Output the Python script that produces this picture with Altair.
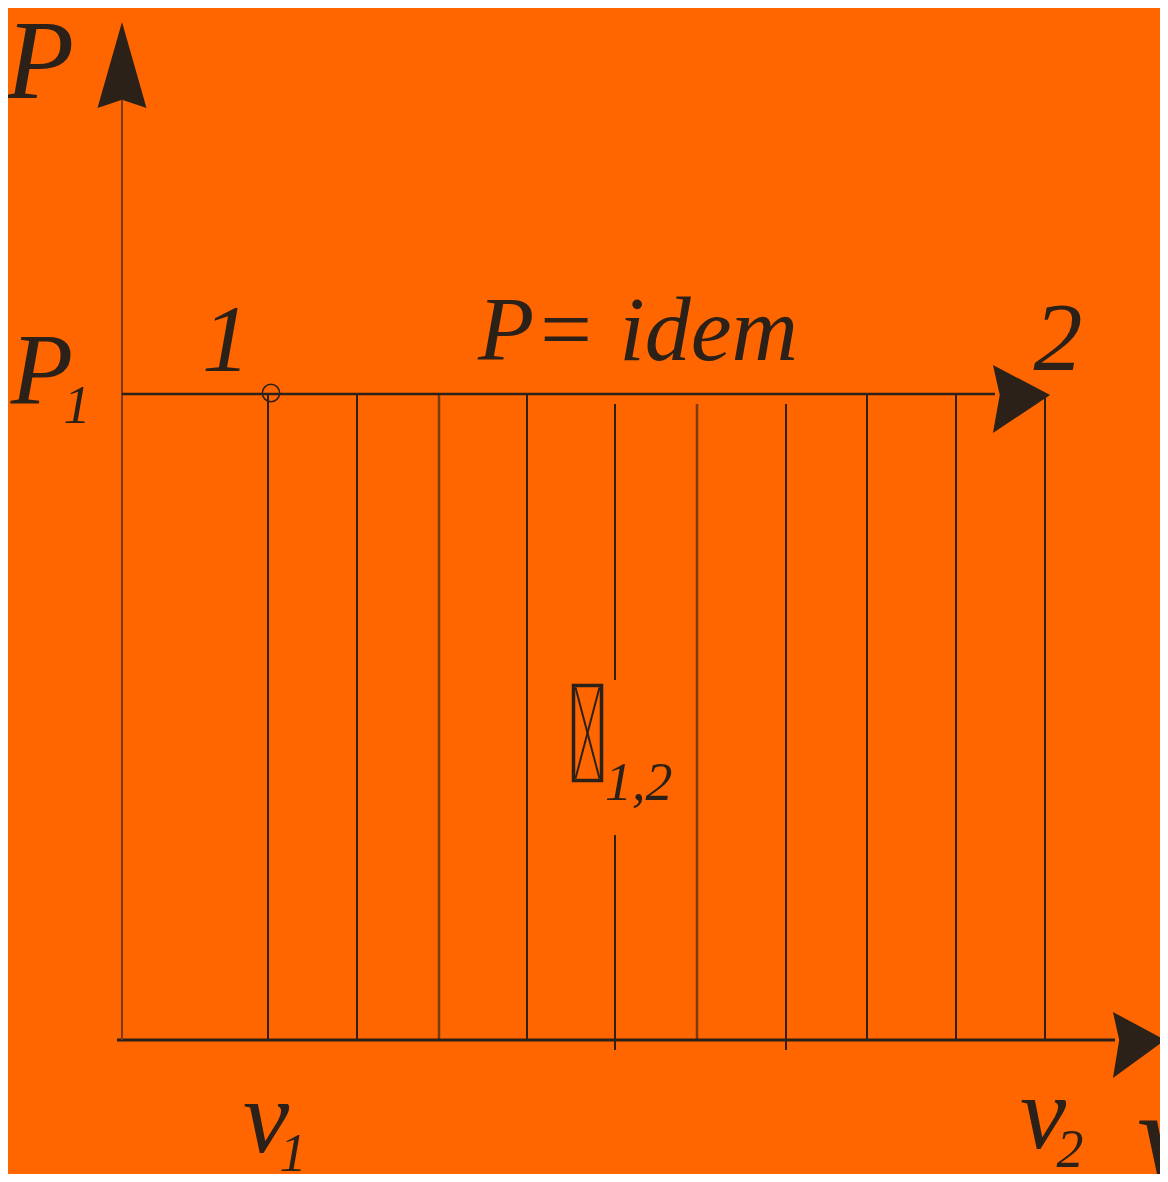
import altair as alt
import pandas as pd

BG = "#FF6600"
DARK = "#2b2118"
BROWN = "#7a3a12"

# coordinate system: specific volume v (horizontal), pressure P (vertical)
V_DOMAIN = [-1.14, 10.38]
P_DOMAIN = [-1.34, 10.32]

P1 = 6.46
V1 = 1.46
V2 = 9.23

# vertical hatching lines under the isobar (work area)
grid_v = [1.46, 2.35, 3.17, 4.05, 4.93, 4.93, 5.75, 6.64, 7.45, 8.34, 9.23]
grid_top = [6.46, 6.46, 6.46, 6.46, 6.36, 2.05, 6.36, 6.36, 6.46, 6.46, 6.46]
grid_bot = [0.0, 0.0, 0.0, 0.0, 3.60, -0.10, 0.0, -0.10, 0.0, 0.0, 0.0]
grid_col = [DARK, DARK, BROWN, DARK, DARK, DARK, BROWN, DARK, DARK, DARK, DARK]
grid_w = [2, 2, 2.5, 2, 2, 2, 2.5, 2, 2, 2, 2]

# axes and isobar lines
line_v1 = [-0.05, 0.0, 0.0]
line_v2 = [9.93, 0.0, 8.73]
line_p1 = [0.0, 0.0, P1]
line_p2 = [0.0, 9.40, P1]
line_col = [DARK, BROWN, DARK]
line_w = [3, 2, 2.5]

# arrow heads
arrow_v = [0.0, 10.17, 8.995]
arrow_p = [9.75, -0.05, 6.41]
arrow_size = [7396, 4356, 4624]
arrow_shape = [
    "M0,-1L0.57,1L0,0.81L-0.57,1Z",
    "M0.79,-0.15L-0.79,-1L-0.6,-0.15L-0.79,1Z",
    "M0.84,-0.12L-0.84,-1L-0.64,-0.12L-0.84,1Z",
]

# work symbol box (L_1,2)
box_v = [4.515, 4.795]
box_p = [3.545, 2.595]

# text labels
txt = ["P", "P", "1", "1", "P= idem", "2", "v", "1", "v", "2", "v", "1,2"]
txt_v = [-0.82, -0.80, -0.45, 1.04, 5.16, 9.36, 1.44, 1.71, 9.21, 9.48, 10.15, 4.83]
txt_p = [9.42, 6.36, 6.17, 6.69, 6.80, 6.70, -1.12, -1.31, -1.08, -1.27, -1.45, 2.40]
txt_fs = [112, 102, 54, 96, 92, 98, 104, 54, 104, 54, 140, 54]
txt_align = ["center", "center", "center", "center", "center", "center",
             "center", "center", "center", "center", "left", "left"]

xs = alt.Scale(domain=V_DOMAIN, nice=False, zero=False)
ys = alt.Scale(domain=P_DOMAIN, nice=False, zero=False)

grid_df = pd.DataFrame({"v": grid_v, "top": grid_top, "bot": grid_bot,
                        "c": grid_col, "w": grid_w})
grid = alt.Chart(grid_df).mark_rule().encode(
    x=alt.X("v:Q", scale=xs, axis=None),
    y=alt.Y("top:Q", scale=ys, axis=None),
    y2="bot:Q",
    color=alt.Color("c:N", scale=None),
    strokeWidth=alt.StrokeWidth("w:Q", scale=None),
)

line_df = pd.DataFrame({"v1": line_v1, "v2": line_v2, "p1": line_p1, "p2": line_p2,
                        "c": line_col, "w": line_w})
lines = alt.Chart(line_df).mark_rule().encode(
    x=alt.X("v1:Q", scale=xs, axis=None),
    x2="v2:Q",
    y=alt.Y("p1:Q", scale=ys, axis=None),
    y2="p2:Q",
    color=alt.Color("c:N", scale=None),
    strokeWidth=alt.StrokeWidth("w:Q", scale=None),
)

arrows = []
for i in range(3):
    adf = pd.DataFrame({"v": [arrow_v[i]], "p": [arrow_p[i]]})
    arrows.append(
        alt.Chart(adf).mark_point(filled=True, shape=arrow_shape[i], size=arrow_size[i],
                                  color=DARK, opacity=1, strokeWidth=0).encode(
            x=alt.X("v:Q", scale=xs, axis=None),
            y=alt.Y("p:Q", scale=ys, axis=None),
        )
    )

circle = alt.Chart(pd.DataFrame({"v": [1.49], "p": [6.47]})).mark_point(
    shape="circle", size=300, filled=False, color=DARK, strokeWidth=1.5, opacity=1
).encode(
    x=alt.X("v:Q", scale=xs, axis=None),
    y=alt.Y("p:Q", scale=ys, axis=None),
)

box_df = pd.DataFrame({"v1": [box_v[0]], "v2": [box_v[1]], "p1": [box_p[0]], "p2": [box_p[1]]})
box = alt.Chart(box_df).mark_rect(fill=None, fillOpacity=0, stroke=DARK, strokeWidth=3.5).encode(
    x=alt.X("v1:Q", scale=xs, axis=None),
    x2="v2:Q",
    y=alt.Y("p1:Q", scale=ys, axis=None),
    y2="p2:Q",
)

diag_df = pd.DataFrame({
    "v1": [box_v[0] + 0.02, box_v[1] - 0.02],
    "v2": [box_v[1] - 0.02, box_v[0] + 0.02],
    "p1": [box_p[0] - 0.02, box_p[0] - 0.02],
    "p2": [box_p[1] + 0.02, box_p[1] + 0.02],
})
diag = alt.Chart(diag_df).mark_rule(color=DARK, strokeWidth=2).encode(
    x=alt.X("v1:Q", scale=xs, axis=None),
    x2="v2:Q",
    y=alt.Y("p1:Q", scale=ys, axis=None),
    y2="p2:Q",
)

text_layers = []
for al in ["center", "left"]:
    idx = [i for i in range(len(txt)) if txt_align[i] == al]
    tdf = pd.DataFrame({
        "t": [txt[i] for i in idx],
        "v": [txt_v[i] for i in idx],
        "p": [txt_p[i] for i in idx],
        "fs": [txt_fs[i] for i in idx],
    })
    text_layers.append(
        alt.Chart(tdf).mark_text(font="Liberation Serif", fontStyle="italic", align=al,
                                 baseline="alphabetic", color=DARK).encode(
            x=alt.X("v:Q", scale=xs, axis=None),
            y=alt.Y("p:Q", scale=ys, axis=None),
            text="t:N",
            size=alt.Size("fs:Q", scale=None),
        )
    )

chart = alt.layer(grid, lines, *arrows, circle, box, diag, *text_layers).properties(
    width=1152,
    height=1166,
    padding=0,
    autosize=alt.AutoSizeParams(type="none"),
    background=BG,
).configure_view(stroke=None)

chart.save("out.html", embed_options={"renderer": "svg", "actions": False})
